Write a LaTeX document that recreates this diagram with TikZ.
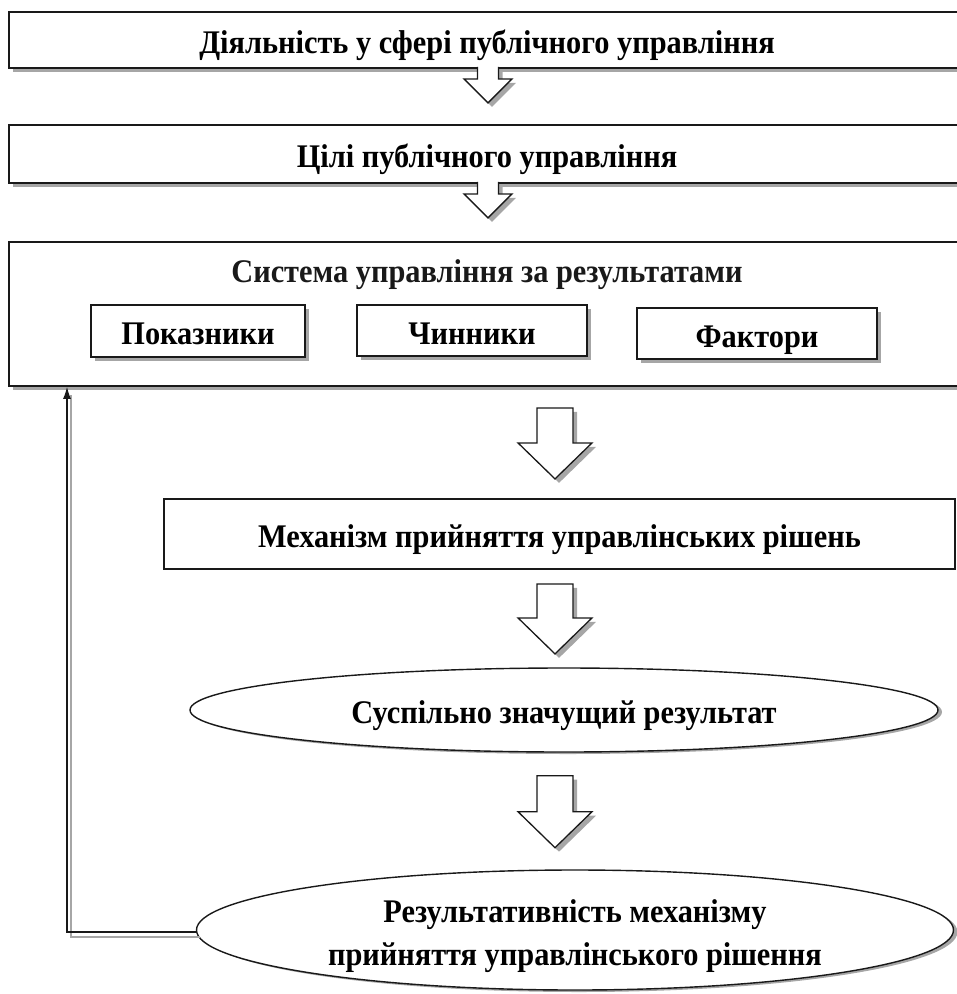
\documentclass[tikz,border=0pt]{standalone}
\usepackage{fontspec}
\setmainfont{Liberation Serif}[FakeStretch=0.92]
\usetikzlibrary{shapes.geometric,shadows,calc,arrows.meta,positioning}

\tikzset{
  shade/.style={drop shadow={shadow xshift=4pt,shadow yshift=-4pt,fill=black!35,opacity=1}},
  box/.style={draw=black!90,line width=1.8pt,fill=white,inner sep=0pt,align=center,
    text height=30pt,text depth=3pt,font=\bfseries\fontsize{33}{43}\selectfont},
  shbox/.style={box,shade},
  oval/.style={box,ellipse,line width=1.4pt,
    drop shadow={shadow xshift=4pt,shadow yshift=-2pt,fill=black!35,opacity=1}},
  txt/.style={inner sep=0pt,text=black!90,text height=30pt,text depth=3pt,
    font=\bfseries\fontsize{33}{43}\selectfont},
  blockarr/.style={draw=black!90,line width=1.3pt,fill=white,line join=miter,shade},
  fb/.style={line width=1.1pt,draw=black!90}
}

% hollow arrow pointing down: top centre, shaft half width, head half width,
% shaft length, head length, end of path
\newcommand{\blockdown}[6]{%
  \path[blockarr] #1 ++(-#2,0) -- ++(0,#4) -- ++({#2-#3},0) -- ++(#3,#5)
    -- ++(#3,-#5) -- ++({#2-#3},0) -- ++(0,-#4) #6;}

\begin{document}
\begin{tikzpicture}[x=1pt,y=-1pt]
  \useasboundingbox (0,0) rectangle (957,994);

  % top of the scheme
  \node[shbox,minimum width=956,minimum height=56] (act) at (487,40)
    {Діяльність у сфері публічного управління};
  \node[shbox,minimum width=956,minimum height=58] (goal) at (487,154)
    {Цілі публічного управління};
  \node[shbox,minimum width=956,minimum height=144] (sys) at (487,314) {};
  \node[txt] (systitle) at ($(sys.north)+(0,28)$) {Система управління за результатами};
  \node[shbox,minimum width=214,minimum height=52] (ind) at (198,331) {Показники};
  \node[shbox,minimum width=230,minimum height=51] (cause) at (472,330.5) {Чинники};
  \node[shbox,minimum width=240,minimum height=51] (fact) at (757,333.5) {Фактори};

  % decision and result
  \node[box,minimum width=791,minimum height=70] (mech) at (559.5,534)
    {Механізм прийняття управлінських рішень};
  \node[oval,minimum width=748,minimum height=84] (soc) at (564,710)
    {Суспільно значущий результат};
  \node[oval,text height=73pt,minimum width=757,minimum height=120] (eff) at (575,930)
    {Результативність механізму\\прийняття управлінського рішення};

  % arrows
  \blockdown{($(act.south)+(1,-2)$)}{10.5}{24}{12}{24}{}
  \blockdown{($(goal.south)+(1,-2)$)}{10.5}{24}{12}{24}{}
  \blockdown{($(sys.south)+(68,21)$)}{18}{37}{35}{36}{-- cycle}
  \blockdown{($(mech.south)+(-4.5,14)$)}{18}{37}{34}{36}{-- cycle}
  \blockdown{($(soc.south)+(-9,23)$)}{18}{37}{36}{36}{-- cycle}

  % feedback
  \coordinate (fbx) at (67,0);
  \draw[fb,draw=black!35] ($(eff.west)+(4,7)$) -| ($(sys.south -| fbx)+(4,8)$);
  \draw[fb,-{Latex[length=12pt,width=8pt]}] ($(eff.west)+(0,2)$) -| (sys.south -| fbx);
\end{tikzpicture}
\end{document}
